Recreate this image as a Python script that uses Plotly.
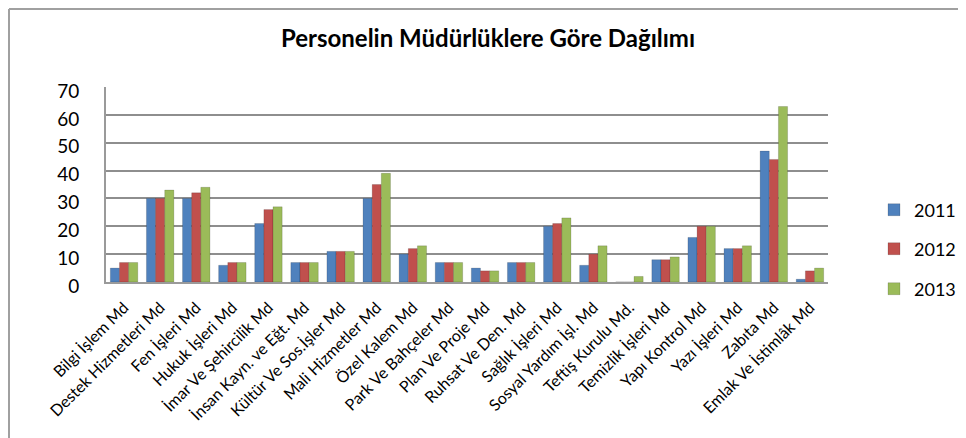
import plotly.graph_objects as go

categories = [
    "Bilgi İşlem Md", "Destek Hizmetleri Md", "Fen İşleri Md", "Hukuk İşleri Md",
    "İmar Ve Şehircilik Md", "İnsan Kayn. ve Eğt. Md", "Kültür Ve Sos.İşler Md",
    "Mali Hizmetler Md", "Özel Kalem Md", "Park Ve Bahçeler Md", "Plan Ve Proje Md",
    "Ruhsat Ve Den. Md", "Sağlık İşleri Md", "Sosyal Yardım İşl. Md", "Teftiş Kurulu Md.",
    "Temizlik İşleri Md", "Yapı Kontrol Md", "Yazı İşleri Md", "Zabıta Md",
    "Emlak Ve İstimlâk Md",
]
y2011 = [5, 30, 30, 6, 21, 7, 11, 30, 10, 7, 5, 7, 20, 6, 0, 8, 16, 12, 47, 1]
y2012 = [7, 30, 32, 7, 26, 7, 11, 35, 12, 7, 4, 7, 21, 10, 0, 8, 20, 12, 44, 4]
y2013 = [7, 33, 34, 7, 27, 7, 11, 39, 13, 7, 4, 7, 23, 13, 2, 9, 20, 13, 63, 5]
series_names = ["2011", "2012", "2013"]
colors = ["#4F81BD", "#C0504D", "#9BBB59"]
yticks = [0, 10, 20, 30, 40, 50, 60, 70]

FONT = "Lato"
OFF = 8  # page body margin
SW, SH = 966, 438
W, H = SW - OFF, SH - OFF
# plot area in screen pixels
SL, SR, ST, SB = 106, 828, 87, 282
L, T = SL - OFF, ST - OFF
R, B = W - (SR - OFF), H - (SB - OFF)
pw, ph = SR - SL, SB - ST

def px(xs):
    return (xs - SL) / pw

def py(ys):
    return (SB - ys) / ph

def cx(xs):
    return (xs - OFF) / W

def cy(ys):
    return 1 - (ys - OFF) / H

fig = go.Figure()
legend_ids = ["legend", "legend2", "legend3"]
legend_y = [210, 249, 289]
for name, vals, col, lid in zip(series_names, [y2011, y2012, y2013], colors, legend_ids):
    fig.add_trace(go.Bar(
        x=categories, y=vals, name=name, legend=lid,
        marker=dict(color=col, line=dict(color="rgba(0,0,0,0.25)", width=0.6)),
    ))

legend_common = dict(
    font=dict(family=FONT, size=18, color="#000"),
    bgcolor="rgba(0,0,0,0)", xanchor="left", yanchor="middle",
    xref="container", yref="container", itemwidth=30,
)
layout_legends = {}
for lid, ly in zip(legend_ids, legend_y):
    layout_legends[lid] = dict(x=cx(874), y=cy(ly), **legend_common)

fig.update_layout(
    width=W, height=H,
    margin=dict(l=L, r=R, t=T, b=B, autoexpand=False),
    paper_bgcolor="white", plot_bgcolor="white",
    barmode="group", bargap=0.24, bargroupgap=0.0,
    title=dict(
        text="<b>Personelin Müdürlüklere Göre Dağılımı</b>",
        font=dict(family=FONT, size=24, color="#000"),
        x=cx(488), xanchor="center", xref="container",
        y=cy(39), yanchor="middle", yref="container",
    ),
    xaxis=dict(
        tickangle=-45, tickfont=dict(family=FONT, size=16, color="#000"),
        showline=True, linecolor="#9a9a9a", linewidth=2,
        showgrid=False, ticks="", ticklabelstandoff=8,
        automargin=False,
    ),
    yaxis=dict(
        range=[0, 70], tickvals=yticks,
        tickfont=dict(family=FONT, size=19, color="#000"),
        showgrid=True, gridcolor="#8e8e8e", gridwidth=1.5,
        showline=True, linecolor="#9a9a9a", linewidth=2,
        zeroline=False, ticks="", ticklabelstandoff=21,
        ticklabelshift=4, automargin=False,
    ),
    showlegend=True,
    **layout_legends,
)

# outer chart border (top and left visible)
fig.add_shape(type="line", xref="paper", yref="paper",
              x0=px(9), x1=px(9), y0=py(450), y1=py(9),
              line=dict(color="#a0a0a0", width=2))
fig.add_shape(type="line", xref="paper", yref="paper",
              x0=px(9), x1=px(980), y0=py(9), y1=py(9),
              line=dict(color="#a0a0a0", width=2))

fig.write_html("out.html")
